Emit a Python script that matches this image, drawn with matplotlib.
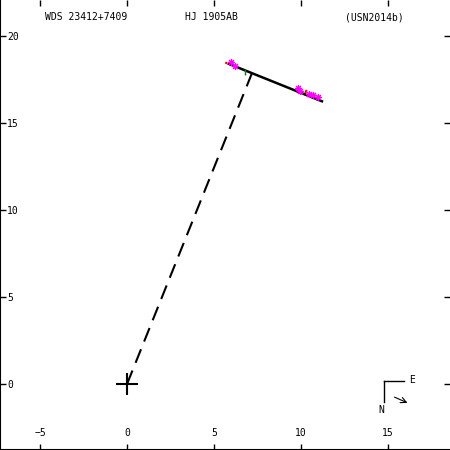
import numpy as np
import matplotlib.pyplot as plt

# header texts
wds_id = 'WDS 23412+7409'
pair = 'HJ 1905AB'
ref = '(USN2014b)'

# linear fit endpoints (x, y)
fit_x = [5.85, 11.2]
fit_y = [18.4, 16.25]

# observations
obs_x = [6.0, 6.2, 9.85, 9.95, 10.45, 10.7, 10.95]
obs_y = [18.5, 18.3, 17.0, 16.85, 16.65, 16.6, 16.5]
red_x = [5.7, 10.3]
red_y = [18.45, 16.85]
green_x = [6.8]
green_y = [17.95]

xticks = [-5, 0, 5, 10, 15]
yticks = [0, 5, 10, 15, 20]

fig = plt.figure(figsize=(4.5, 4.5), dpi=100)
ax = fig.add_axes([0, 0, 1, 1])
ax.set_xlim(-7.30, 18.56)
ax.set_ylim(-3.79, 22.07)

fnt = dict(family='DejaVu Sans Mono', fontsize=7)

# fitted line and perpendicular to the origin
p0 = np.array([fit_x[0], fit_y[0]])
p1 = np.array([fit_x[1], fit_y[1]])
u = (p1 - p0) / np.linalg.norm(p1 - p0)
foot = p0 - np.dot(p0, u) * u
ax.plot([0, foot[0]], [0, foot[1]], color='black', lw=1.5, ls=(0, (7, 4)))

# residuals
for x, y in zip(obs_x + red_x, obs_y + red_y):
    q = p0 + np.dot(np.array([x, y]) - p0, u) * u
    ax.plot([x, q[0]], [y, q[1]], color='red', lw=1.5)

ax.plot(fit_x, fit_y, color='black', lw=1.8)
ax.plot(obs_x, obs_y, ls='none', marker=(8, 2, 0), ms=5, mew=0.8, color='magenta')
ax.plot(green_x, green_y, ls='none', marker='|', ms=5, mew=1, color='green')

ax.plot([0], [0], marker='+', ms=16, mew=1.5, color='black')

# axes frame: only left and bottom lines
ax.spines['top'].set_visible(False)
ax.spines['right'].set_visible(False)
ax.spines['left'].set_linewidth(1.5)
ax.spines['bottom'].set_linewidth(1.5)

ax.set_xticks(xticks)
ax.set_yticks(yticks)
ax.tick_params(axis='both', direction='in', length=4, width=1,
               top=True, right=True, labelsize=7)
ax.tick_params(axis='x', pad=-16)
ax.tick_params(axis='y', pad=-5)
for lab in ax.get_yticklabels():
    lab.set_ha('left')
    lab.set_family('DejaVu Sans Mono')
for lab in ax.get_xticklabels():
    lab.set_family('DejaVu Sans Mono')

fig.text(45 / 450, 1 - 17 / 450, wds_id, va='center', ha='left', **fnt)
fig.text(185 / 450, 1 - 17 / 450, pair, va='center', ha='left', **fnt)
fig.text(345 / 450, 1 - 17 / 450, ref, va='center', ha='left', **fnt)

# compass
fig.add_artist(plt.Line2D([384 / 450, 404 / 450], [1 - 381 / 450, 1 - 381 / 450],
                          color='black', lw=1))
fig.add_artist(plt.Line2D([384 / 450, 384 / 450], [1 - 381 / 450, 1 - 402 / 450],
                          color='black', lw=1))
fig.text(409 / 450, 1 - 380 / 450, 'E', va='center', ha='left', **fnt)
fig.text(381 / 450, 1 - 410 / 450, 'N', va='center', ha='center', **fnt)
ax.annotate('', xy=(410 / 450, 1 - 404 / 450), xytext=(392 / 450, 1 - 396 / 450),
            xycoords='figure fraction',
            arrowprops=dict(arrowstyle='->', color='black', lw=0.8))

fig.savefig('out.png', dpi=100)
